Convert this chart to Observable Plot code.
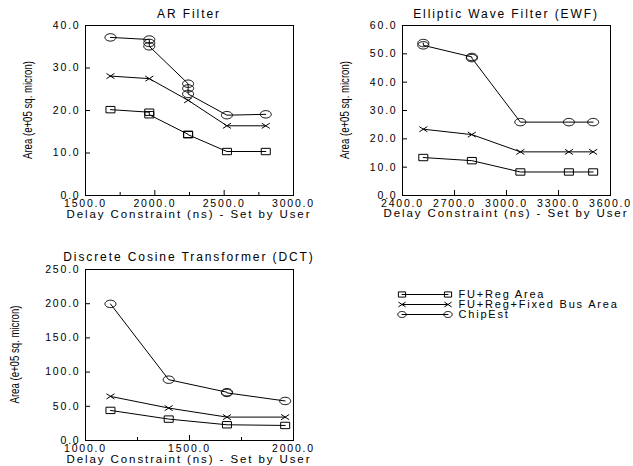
<!DOCTYPE html>
<html><head><meta charset="utf-8">
<script src="https://cdn.jsdelivr.net/npm/d3@7"></script>
<script src="https://cdn.jsdelivr.net/npm/@observablehq/plot@0.6"></script>
<style>
body{margin:0;background:#fff;}
#wrap{position:relative;width:633px;height:466px;overflow:hidden;background:#fff;}
#wrap svg{position:absolute;}
</style></head><body><div id="wrap"></div>
<script>
const FONT = "'Liberation Sans', Arial, Helvetica, sans-serif";
const seriesNames = ["FU+Reg Area", "FU+Reg+Fixed Bus Area", "ChipEst"];
const xLabel = "Delay Constraint (ns) - Set by User";
const yLabel = "Area (e+05 sq. micron)";

// AR Filter
const arTitle = "AR Filter";
const arXTicks = [1500, 2000, 2500, 3000];
const arXMinor = [1750, 2250, 2750];
const arYTicks = [0, 10, 20, 30, 40];
const arFuX = [1680, 1960, 1960, 2240, 2240, 2520, 2800];
const arFuY = [20.2, 19.6, 19.0, 14.4, 14.3, 10.35, 10.35];
const arBusX = [1680, 1960, 2240, 2520, 2800];
const arBusY = [28.1, 27.5, 22.4, 16.4, 16.4];
const arChipX = [1680, 1960, 1960, 1960, 2240, 2240, 2240, 2520, 2800];
const arChipY = [37.2, 36.7, 35.9, 35.1, 26.3, 25.2, 23.9, 18.9, 19.1];

// Elliptic Wave Filter
const ewfTitle = "Elliptic Wave Filter (EWF)";
const ewfXTicks = [2400, 2700, 3000, 3300, 3600];
const ewfXMinor = [];
const ewfYTicks = [0, 10, 20, 30, 40, 50, 60];
const ewfFuX = [2520, 2800, 3080, 3360, 3500];
const ewfFuY = [13.4, 12.3, 8.3, 8.3, 8.3];
const ewfBusX = [2520, 2800, 3080, 3360, 3500];
const ewfBusY = [23.4, 21.5, 15.4, 15.4, 15.4];
const ewfChipX = [2520, 2520, 2800, 2800, 3080, 3360, 3500];
const ewfChipY = [53.8, 53.0, 48.9, 48.5, 25.9, 25.9, 25.9];

// Discrete Cosine Transformer
const dctTitle = "Discrete Cosine Transformer (DCT)";
const dctXTicks = [1000, 1500, 2000];
const dctXMinor = [1250, 1750];
const dctYTicks = [0, 50, 100, 150, 200, 250];
const dctFuX = [1120, 1400, 1680, 1960];
const dctFuY = [44, 31.3, 23, 22];
const dctBusX = [1120, 1400, 1680, 1960];
const dctBusY = [64.5, 47.4, 34.2, 34.2];
const dctChipX = [1120, 1400, 1680, 1680, 1960];
const dctChipY = [199.7, 88.9, 70.6, 69.6, 57.8];

// custom flattened symbols
function ellipseSym(ax, ay) {
  return {draw(ctx, size) {
    const r = Math.sqrt(size / Math.PI);
    for (let i = 0; i <= 40; i++) {
      const a = i / 40 * 2 * Math.PI;
      const px = ax * r * Math.cos(a), py = ay * r * Math.sin(a);
      if (i === 0) ctx.moveTo(px, py); else ctx.lineTo(px, py);
    }
    ctx.closePath();
  }};
}
function rectSym(ax, ay) {
  return {draw(ctx, size) {
    const r = Math.sqrt(size / Math.PI);
    ctx.moveTo(-ax * r, -ay * r); ctx.lineTo(ax * r, -ay * r);
    ctx.lineTo(ax * r, ay * r); ctx.lineTo(-ax * r, ay * r); ctx.closePath();
  }};
}
function crossSym(ax, ay) {
  return {draw(ctx, size) {
    const r = Math.sqrt(size / Math.PI);
    ctx.moveTo(-ax * r, -ay * r); ctx.lineTo(ax * r, ay * r);
    ctx.moveTo(-ax * r, ay * r); ctx.lineTo(ax * r, -ay * r);
  }};
}
const bigSyms = [rectSym(4.5, 3.2), crossSym(4, 2.6), ellipseSym(5.5, 3.7)];
const smallSyms = [rectSym(3.6, 2.6), crossSym(3.6, 2.4), ellipseSym(4.2, 3.0)];

const wrap = document.getElementById("wrap");
const zipXY = (xs, ys) => xs.map((x, i) => ({x, y: ys[i]}));

function panel(cfg) {
  const {left, top, width, height, mL, mR, mT, mB, xDomain, yDomain, xTicks, xMinor, yTicks, series, title, titleY, xLabelY, yLabelX} = cfg;
  const marks = [
    Plot.axisY({ticks: yTicks, tickFormat: d => d.toFixed(1), tickSize: -5, tickPadding: 10, label: null, stroke: "black"}),
    Plot.axisX({ticks: xTicks, tickFormat: d => d.toFixed(1), tickSize: -5, tickPadding: 9, label: null, stroke: "black"}),
  ];
  if (xMinor.length) marks.push(Plot.axisX({ticks: xMinor, tickFormat: () => "", tickSize: -3, label: null, stroke: "black"}));
  series.forEach((s, k) => {
    const data = zipXY(s[0], s[1]);
    marks.push(Plot.line(data, {x: "x", y: "y", stroke: "black", strokeWidth: 1}));
    marks.push(Plot.dot(data, {x: "x", y: "y", r: 1, symbol: bigSyms[k], stroke: "black", fill: "none", strokeWidth: 1}));
  });
  marks.push(Plot.frame({stroke: "black", strokeWidth: 1}));
  const svg = Plot.plot({
    width, height, marginLeft: mL, marginRight: mR, marginTop: mT, marginBottom: mB,
    x: {domain: xDomain}, y: {domain: yDomain},
    style: {fontFamily: FONT, fontSize: "10.5px", color: "black", background: "transparent"},
    marks
  });
  svg.style.left = left + "px";
  svg.style.top = top + "px";
  svg.style.letterSpacing = "1.8px";
  const s = d3.select(svg);
  const cx = (mL + width - mR) / 2;
  s.append("text").attr("x", cx).attr("y", titleY).attr("text-anchor", "middle")
    .attr("fill", "black").style("font-size", "12px").style("letter-spacing", "1.9px").text(title);
  s.append("text").attr("x", cx).attr("y", xLabelY).attr("text-anchor", "middle")
    .attr("fill", "black").style("font-size", "11.5px").style("letter-spacing", "1.9px").text(xLabel);
  s.append("text").attr("transform", `translate(${yLabelX},${(mT + height - mB) / 2}) rotate(-90)`)
    .attr("text-anchor", "middle").attr("dominant-baseline", "central")
    .attr("textLength", 98).attr("lengthAdjust", "spacingAndGlyphs")
    .attr("fill", "black").style("font-size", "12.5px").style("letter-spacing", "0px").text(yLabel);
  wrap.appendChild(svg);
}

panel({left: 0, top: 0, width: 316, height: 222, mL: 85, mR: 23, mT: 25, mB: 27,
  xDomain: [1500, 3000], yDomain: [0, 40], xTicks: arXTicks, xMinor: arXMinor, yTicks: arYTicks,
  series: [[arFuX, arFuY], [arBusX, arBusY], [arChipX, arChipY]],
  title: arTitle, titleY: 18, xLabelY: 218, yLabelX: 28});

panel({left: 316, top: 0, width: 317, height: 222, mL: 86, mR: 23, mT: 25, mB: 27,
  xDomain: [2400, 3600], yDomain: [0, 60], xTicks: ewfXTicks, xMinor: ewfXMinor, yTicks: ewfYTicks,
  series: [[ewfFuX, ewfFuY], [ewfBusX, ewfBusY], [ewfChipX, ewfChipY]],
  title: ewfTitle, titleY: 18, xLabelY: 217, yLabelX: 29});

panel({left: 0, top: 244, width: 316, height: 222, mL: 85, mR: 23, mT: 25, mB: 26,
  xDomain: [1000, 2000], yDomain: [0, 250], xTicks: dctXTicks, xMinor: dctXMinor, yTicks: dctYTicks,
  series: [[dctFuX, dctFuY], [dctBusX, dctBusY], [dctChipX, dctChipY]],
  title: dctTitle, titleY: 17, xLabelY: 219, yLabelX: 15});

// legend
const legendEnds = [0, 1];
const legendRows = seriesNames.flatMap(name => legendEnds.map(t => ({name, t})));
const legMarks = [
  Plot.line(legendRows, {x: "t", y: "name", z: "name", stroke: "black", strokeWidth: 1})
];
seriesNames.forEach((name, k) => {
  legMarks.push(Plot.dot(legendRows.filter(d => d.name === name), {x: "t", y: "name", r: 1, symbol: smallSyms[k], stroke: "black", fill: "none", strokeWidth: 1}));
});
legMarks.push(Plot.text(seriesNames, {x: () => 1, y: d => d, text: d => d, textAnchor: "start", dx: 10.5, fill: "black"}));
const leg = Plot.plot({
  width: 253, height: 45, margin: 0,
  x: {domain: [0, 1], range: [21.5, 67.5], axis: null},
  y: {type: "point", domain: seriesNames, range: [13.3, 34.3], padding: 0, axis: null},
  style: {fontFamily: FONT, fontSize: "11px", color: "black", background: "transparent"},
  marks: legMarks
});
leg.style.left = "380px";
leg.style.top = "280px";
leg.style.letterSpacing = "1.8px";
wrap.appendChild(leg);
</script></body></html>
